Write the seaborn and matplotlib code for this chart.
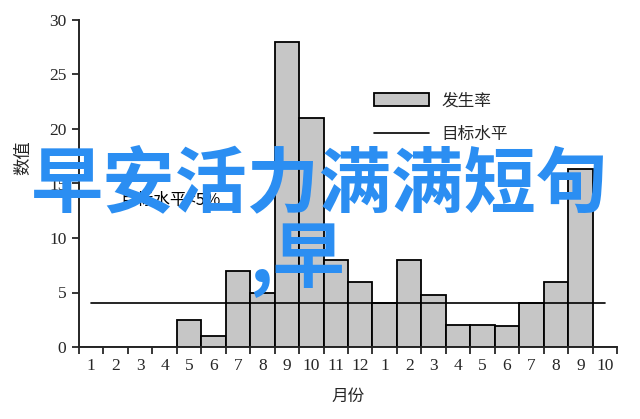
import numpy as np
import pandas as pd
import seaborn as sns
import matplotlib.pyplot as plt
from matplotlib.patches import Patch
from matplotlib.lines import Line2D

# Data
months = ['1', '2', '3', '4', '5', '6', '7', '8', '9', '10', '11', '12',
          '1', '2', '3', '4', '5', '6', '7', '8', '9', '10']
incidence = [0, 0, 0, 0, 2.5, 1, 7, 5, 28, 21, 8, 6,
             4, 8, 4.8, 2, 2, 1.9, 4, 6, 16.3, 0]
target_level = 4.0
y_ticks = [0, 5, 10, 15, 20, 25, 30]

overlay_line1 = '早安活力满满短句'
overlay_line2 = ',早'
hidden_note = '目标水平<5%'

sns.set_style("ticks")
plt.rcParams['font.family'] = ['Liberation Serif', 'Noto Sans CJK SC']
plt.rcParams['axes.linewidth'] = 1.4

df = pd.DataFrame({'pos': range(len(months)), 'month': months, 'rate': incidence})

W, H = 640, 419
fig = plt.figure(figsize=(W / 100, H / 100), dpi=100)
ax = fig.add_axes([79 / W, 1 - 347 / H, (617 - 79) / W, (347 - 20) / H])

# Bars
sns.barplot(data=df, x='pos', y='rate', width=1, color='#c6c6c6', saturation=1,
            edgecolor='black', linewidth=1.3, ax=ax)

# Target level line
ax.plot([0, len(months) - 1], [target_level, target_level], color='black', lw=1.2, zorder=5)

# Axes styling
sns.despine(ax=ax)
ax.set_ylim(0, 30)
ax.set_yticks(y_ticks)
ax.set_yticklabels([str(t) for t in y_ticks], fontsize=12.5)
ax.set_xlim(-0.5, len(months) - 0.5)
ax.set_xticks(np.arange(len(months) + 1) - 0.5)
ax.set_xticklabels([])
ax.set_xticks(range(len(months)), minor=True)
ax.set_xticklabels(months, minor=True, fontsize=12.5)
ax.tick_params(axis='x', which='major', length=5, width=1.3, direction='out')
ax.tick_params(axis='x', which='minor', length=0, pad=8)
ax.tick_params(axis='y', length=5, width=1.3, direction='out', pad=4)
ax.set_xlabel('月份', fontsize=12, labelpad=11)
ax.set_ylabel('数值', fontsize=12.5)
ax.yaxis.set_label_coords(-0.087, 0.578)

# Legend
handles = [Patch(facecolor='#c6c6c6', edgecolor='black', linewidth=1.3),
           Line2D([0], [0], color='black', lw=1.2)]
ax.legend(handles, ['发生率', '目标水平'], loc='upper left', frameon=False,
          bbox_to_anchor=(366 / W, 1 - 84 / H), bbox_transform=fig.transFigure,
          prop={'family': 'Noto Sans CJK SC', 'size': 12}, handlelength=3.3,
          handleheight=0.9, handletextpad=0.7, labelspacing=1.0, borderpad=0)

# Note partly hidden under the overlay
fig.text(120 / W, 1 - 200 / H, hidden_note, fontsize=12, color='black',
         family='Noto Sans CJK SC', ha='left', va='center')

# Overlay text
blue = '#2b8ef2'
fig.text(320 / W, 1 - 206 / H, overlay_line1, fontsize=52, color=blue,
         family='Noto Sans CJK SC', weight='bold', ha='center', va='baseline')
fig.text(249 / W, 1 - 282 / H, overlay_line2, fontsize=52, color=blue,
         family='Noto Sans CJK SC', weight='bold', ha='left', va='baseline')

fig.savefig('out.png', dpi=100)
